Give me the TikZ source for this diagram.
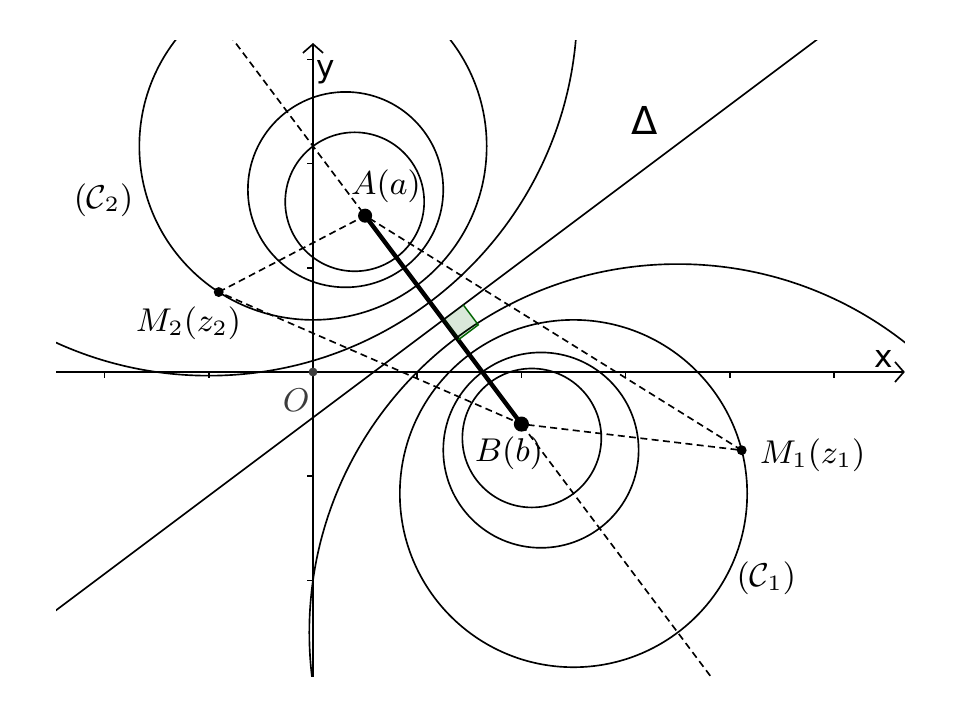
\documentclass[tikz,border=0pt]{standalone}
\usepackage{fontspec}
\usepackage{amsmath}
\usetikzlibrary{positioning,calc,arrows.meta}
\newfontfamily\axisfont{DejaVu Sans}
\definecolor{anglegreen}{RGB}{0,100,0}
\definecolor{origingray}{RGB}{60,60,60}
\tikzset{
  curve/.style={line width=0.45pt},
  guide/.style={line width=0.45pt,dash pattern=on 1.9pt off 1.2pt},
  pointdot/.style={circle,fill,inner sep=0pt,minimum size=#1},
  lbl/.style={font=\small},
  axislbl/.style={font=\axisfont\fontsize{8.5}{10}\selectfont},
}
\begin{document}
\begin{tikzpicture}[x=1cm,y=1cm,>={Straight Barb[length=2.4pt,width=5.5pt]}]
   \useasboundingbox (-3.004,-3.340) rectangle (6.209,3.570);
   \coordinate (O) at (0,0);
   \coordinate (A) at (0.5,1.5);
   \coordinate (B) at (2,-0.5);
   \coordinate (M1) at (4.114,-0.751);
   \coordinate (M2) at (-0.905,0.767);
   \coordinate (I) at ($(A)!0.5!(B)$);
   \coordinate (D1) at ($(I)+(-4.8,-3.6)$);
   \coordinate (D2) at ($(I)+(4.8,3.6)$);
   \coordinate (xl) at (-2.466,0);
   \coordinate (xr) at (5.68,0);
   \coordinate (yb) at (0,-2.927);
   \coordinate (yt) at (0,3.157);
   \draw[curve,->] (xl) -- (xr);
   \draw[curve,->] (yb) -- (yt);
   \foreach \i in {-2,-1,1,2,3,4,5} \draw[curve] (\i,0) -- (\i,-0.055);
   \foreach \j in {-2,-1,1,2,3} \draw[curve] (0,\j) -- (-0.055,\j);
   \begin{scope}
     \clip (-2.466,-2.927) rectangle (5.68,3.177);
     \foreach \cx/\cy/\r in {0.4/1.6333/0.6667, 0.3125/1.75/0.9375, 0/2.1667/1.6667, -1/3.5/3.5355,
                             2.1/-0.6333/0.6667, 2.1875/-0.75/0.9375, 2.5/-1.1667/1.6667, 3.5/-2.5/3.5355}
       \draw[curve] (\cx,\cy) circle (\r);
     \draw[curve] (D1) -- (D2);
     \draw[guide] ($(A)!-1!(B)$) -- ($(A)!2.5!(B)$);
   \end{scope}
   \draw[guide] (M2) -- (A) -- (M1) -- (B) -- (M2);
   \draw[line width=1.2pt] (A) -- (B);
   \begin{scope}[shift={(I)},rotate=36.87]
     \fill[anglegreen,fill opacity=0.15] (0,0) rectangle (0.24,-0.24);
     \draw[anglegreen,line width=0.4pt] (0.24,0) -- (0.24,-0.24) -- (0,-0.24);
   \end{scope}
   \node[pointdot=1.35mm] (dA) at (A) {};
   \node[pointdot=1.45mm] (dB) at (B) {};
   \node[pointdot=0.95mm] (dM1) at (M1) {};
   \node[pointdot=0.95mm] (dM2) at (M2) {};
   \node[pointdot=0.85mm,origingray] (dO) at (O) {};
   \node[lbl] (lA) [above=0cm of A, xshift=0.2cm] {$A(a)$};
   \node[lbl] (lB) [below=0cm of B, xshift=-0.12cm] {$B(b)$};
   \node[lbl] (lM1) [right=0.05cm of M1, yshift=-0.05cm] {$M_1(z_1)$};
   \node[lbl] (lM2) [below=0.02cm of M2, xshift=-0.29cm] {$M_2(z_2)$};
   \node[lbl] (lC2) at (-2.01,1.65) {$(\mathcal{C}_2)$};
   \node[lbl] (lC1) at (4.35,-1.98) {$(\mathcal{C}_1)$};
   \node[lbl,text=origingray] (lO) at (-0.16,-0.27) {$O$};
   \node[axislbl] (lx) at (5.475,0.12) {x};
   \node[axislbl] (ly) at (0.12,2.88) {y};
   \node[font=\axisfont\fontsize{10.5}{12}\selectfont] (lD) at (3.186,2.409) {Δ};
\end{tikzpicture}
\end{document}
